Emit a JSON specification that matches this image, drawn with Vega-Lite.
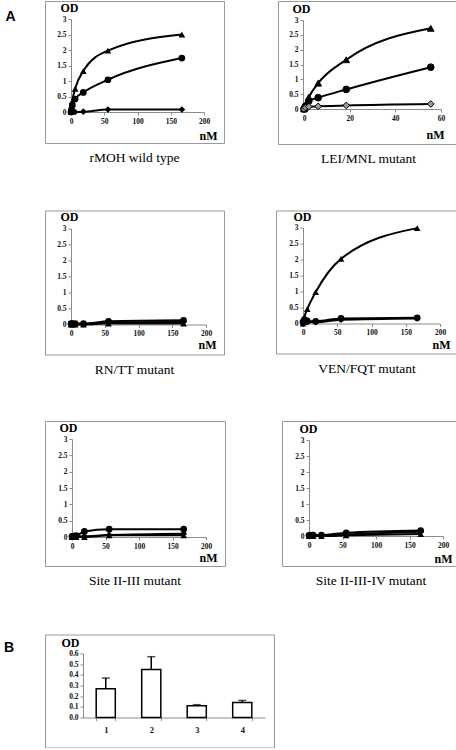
{
  "$schema": "https://vega.github.io/schema/vega-lite/v6.json",
  "background": "white",
  "padding": {"left": 3, "top": 0, "right": 0, "bottom": 0},
  "datasets": {
    "curves": [
      {"p":1,"s":"tri","x":0,"y":0},{"p":1,"s":"tri","x":0.7,"y":0.12},{"p":1,"s":"tri","x":2,"y":0.35},{"p":1,"s":"tri","x":6.2,"y":0.75},{"p":1,"s":"tri","x":18.5,"y":1.32},{"p":1,"s":"tri","x":55.5,"y":1.98},{"p":1,"s":"tri","x":166.7,"y":2.5},
      {"p":1,"s":"cir","x":0,"y":0},{"p":1,"s":"cir","x":0.7,"y":0.08},{"p":1,"s":"cir","x":2,"y":0.22},{"p":1,"s":"cir","x":6.2,"y":0.42},{"p":1,"s":"cir","x":18.5,"y":0.63},{"p":1,"s":"cir","x":55.5,"y":1.04},{"p":1,"s":"cir","x":166.7,"y":1.74},
      {"p":1,"s":"dia","x":0,"y":0},{"p":1,"s":"dia","x":2,"y":0.01},{"p":1,"s":"dia","x":6.2,"y":0},{"p":1,"s":"dia","x":18.5,"y":0.01},{"p":1,"s":"dia","x":55.5,"y":0.08},{"p":1,"s":"dia","x":166.7,"y":0.08},
      {"p":2,"s":"tri","x":0,"y":0},{"p":2,"s":"tri","x":0.2,"y":0.05},{"p":2,"s":"tri","x":0.7,"y":0.15},{"p":2,"s":"tri","x":2.1,"y":0.4},{"p":2,"s":"tri","x":6.2,"y":0.87},{"p":2,"s":"tri","x":18.5,"y":1.66},{"p":2,"s":"tri","x":55.5,"y":2.72},
      {"p":2,"s":"cir","x":0,"y":0},{"p":2,"s":"cir","x":0.2,"y":0.03},{"p":2,"s":"cir","x":0.7,"y":0.1},{"p":2,"s":"cir","x":2.1,"y":0.27},{"p":2,"s":"cir","x":6.2,"y":0.38},{"p":2,"s":"cir","x":18.5,"y":0.66},{"p":2,"s":"cir","x":55.5,"y":1.41},
      {"p":2,"s":"dia","x":0,"y":0},{"p":2,"s":"dia","x":0.7,"y":0.05},{"p":2,"s":"dia","x":2.1,"y":0.08},{"p":2,"s":"dia","x":6.2,"y":0.09},{"p":2,"s":"dia","x":18.5,"y":0.12},{"p":2,"s":"dia","x":55.5,"y":0.17},
      {"p":3,"s":"cir","x":0,"y":0.03},{"p":3,"s":"cir","x":2,"y":0.03},{"p":3,"s":"cir","x":6.2,"y":0.03},{"p":3,"s":"cir","x":18.5,"y":0.03},{"p":3,"s":"cir","x":55.5,"y":0.1},{"p":3,"s":"cir","x":166.7,"y":0.13},
      {"p":3,"s":"dia","x":0,"y":0.01},{"p":3,"s":"dia","x":6.2,"y":0.01},{"p":3,"s":"dia","x":18.5,"y":0.01},{"p":3,"s":"dia","x":55.5,"y":0.07},{"p":3,"s":"dia","x":166.7,"y":0.08},
      {"p":3,"s":"tri","x":0,"y":0},{"p":3,"s":"tri","x":2,"y":0},{"p":3,"s":"tri","x":6.2,"y":0},{"p":3,"s":"tri","x":18.5,"y":0},{"p":3,"s":"tri","x":55.5,"y":0.03},{"p":3,"s":"tri","x":166.7,"y":0.03},
      {"p":4,"s":"tri","x":0,"y":0},{"p":4,"s":"tri","x":0.7,"y":0.08},{"p":4,"s":"tri","x":2,"y":0.2},{"p":4,"s":"tri","x":6.2,"y":0.45},{"p":4,"s":"tri","x":18.5,"y":0.98},{"p":4,"s":"tri","x":55.5,"y":2.02},{"p":4,"s":"tri","x":166.7,"y":2.98},
      {"p":4,"s":"cir","x":0,"y":0.05},{"p":4,"s":"cir","x":2,"y":0.12},{"p":4,"s":"cir","x":6.2,"y":0.08},{"p":4,"s":"cir","x":18.5,"y":0.07},{"p":4,"s":"cir","x":55.5,"y":0.16},{"p":4,"s":"cir","x":166.7,"y":0.18},
      {"p":4,"s":"dia","x":0,"y":0},{"p":4,"s":"dia","x":6.2,"y":0.04},{"p":4,"s":"dia","x":18.5,"y":0.04},{"p":4,"s":"dia","x":55.5,"y":0.12},{"p":4,"s":"dia","x":166.7,"y":0.16},
      {"p":5,"s":"cir","x":0,"y":0.02},{"p":5,"s":"cir","x":2,"y":0.03},{"p":5,"s":"cir","x":6.2,"y":0.04},{"p":5,"s":"cir","x":18.5,"y":0.17},{"p":5,"s":"cir","x":55.5,"y":0.24},{"p":5,"s":"cir","x":166.7,"y":0.24},
      {"p":5,"s":"dia","x":0,"y":0.01},{"p":5,"s":"dia","x":18.5,"y":0.02},{"p":5,"s":"dia","x":55.5,"y":0.06},{"p":5,"s":"dia","x":166.7,"y":0.1},
      {"p":5,"s":"tri","x":0,"y":0},{"p":5,"s":"tri","x":2,"y":0},{"p":5,"s":"tri","x":6.2,"y":0},{"p":5,"s":"tri","x":18.5,"y":0},{"p":5,"s":"tri","x":55.5,"y":0.05},{"p":5,"s":"tri","x":166.7,"y":0.05},
      {"p":6,"s":"cir","x":0,"y":0.02},{"p":6,"s":"cir","x":2,"y":0.03},{"p":6,"s":"cir","x":6.2,"y":0.03},{"p":6,"s":"cir","x":18.5,"y":0.03},{"p":6,"s":"cir","x":55.5,"y":0.1},{"p":6,"s":"cir","x":166.7,"y":0.17},
      {"p":6,"s":"dia","x":0,"y":0.01},{"p":6,"s":"dia","x":55.5,"y":0.05},{"p":6,"s":"dia","x":166.7,"y":0.13},
      {"p":6,"s":"tri","x":0,"y":0},{"p":6,"s":"tri","x":6.2,"y":0},{"p":6,"s":"tri","x":18.5,"y":0},{"p":6,"s":"tri","x":55.5,"y":0.02},{"p":6,"s":"tri","x":166.7,"y":0.06}
    ],
    "bars": [
      {"k":"1","v":0.27,"hi":0.37},
      {"k":"2","v":0.45,"hi":0.57},
      {"k":"3","v":0.11,"hi":0.12},
      {"k":"4","v":0.14,"hi":0.16}
    ]
  },
  "vconcat": [
    {
      "title": {"text":"A","orient":"left","anchor":"end","angle":0,"align":"left","baseline":"top","dy":9,"offset":29,"font":"Liberation Sans","fontSize":14,"fontWeight":"bold","color":"black"},
      "spacing": 43.5,
      "vconcat": [
        {
          "spacing": 52,
          "hconcat": [
            {
              "width": 179, "height": 142,
              "title": {"text": "rMOH wild type"},
              "data": {"name": "curves"},
              "transform": [{"filter": "datum.p == 1"}],
              "encoding": {
                "x": {"field":"x","type":"quantitative","scale":{"domain":[0,200],"range":[26,159],"nice":false,"zero":false},
                      "axis":{"offset":-31,"values":[0,50,100,150,200],"title":"nM","titleX":163,"titleY":27}},
                "y": {"field":"y","type":"quantitative","scale":{"domain":[0,3],"range":[111,18],"nice":false},
                      "axis":{"offset":-26,"values":[0,0.5,1,1.5,2,2.5,3],"format":"~g","title":"OD","titleX":-2,"titleY":10}}
              },
              "layer": [
                {"mark":{"type":"line","interpolate":"monotone","color":"black","strokeWidth":2},"encoding":{"detail":{"field":"s"}}},
                {"mark":{"type":"point","filled":true,"color":"black","size":45,"opacity":1},"encoding":{"shape":{"field":"s","type":"nominal","scale":{"domain":["tri","cir","dia"],"range":["triangle-up","circle","diamond"]},"legend":null}}}
              ]
            },
            {
              "width": 181, "height": 143,
              "title": {"text": "LEI/MNL mutant"},
              "data": {"name": "curves"},
              "transform": [{"filter": "datum.p == 2"}],
              "encoding": {
                "x": {"field":"x","type":"quantitative","scale":{"domain":[0,60],"range":[26,163],"nice":false,"zero":false},
                      "axis":{"offset":-35,"values":[0,20,40,60],"title":"nM","titleX":157,"titleY":29}},
                "y": {"field":"y","type":"quantitative","scale":{"domain":[0,3],"range":[108,19],"nice":false},
                      "axis":{"offset":-25,"values":[0,0.5,1,1.5,2,2.5,3],"format":"~g","title":"OD","titleX":-2,"titleY":11}}
              },
              "layer": [
                {"mark":{"type":"line","interpolate":"monotone","color":"black","strokeWidth":2},"encoding":{"detail":{"field":"s"}}},
                {"mark":{"type":"point","filled":true,"stroke":"black","strokeWidth":1,"size":45,"opacity":1},"encoding":{
                  "shape":{"field":"s","type":"nominal","scale":{"domain":["tri","cir","dia"],"range":["triangle-up","circle","diamond"]},"legend":null},
                  "fill":{"field":"s","type":"nominal","scale":{"domain":["tri","cir","dia"],"range":["black","black","#9a9a9a"]},"legend":null}}}
              ]
            }
          ]
        },
        {
          "spacing": 50,
          "hconcat": [
            {
              "width": 179, "height": 144,
              "title": {"text": "RN/TT mutant"},
              "data": {"name": "curves"},
              "transform": [{"filter": "datum.p == 3"}],
              "encoding": {
                "x": {"field":"x","type":"quantitative","scale":{"domain":[0,200],"range":[26,161],"nice":false,"zero":false},
                      "axis":{"offset":-30,"values":[0,50,100,150,200],"title":"nM","titleX":162,"titleY":24}},
                "y": {"field":"y","type":"quantitative","scale":{"domain":[0,3],"range":[114,18],"nice":false},
                      "axis":{"offset":-26,"values":[0,0.5,1,1.5,2,2.5,3],"format":"~g","title":"OD","titleX":-2,"titleY":10}}
              },
              "layer": [
                {"mark":{"type":"line","interpolate":"monotone","color":"black","strokeWidth":2},"encoding":{"detail":{"field":"s"}}},
                {"mark":{"type":"point","filled":true,"color":"black","size":45,"opacity":1},"encoding":{"shape":{"field":"s","type":"nominal","scale":{"domain":["tri","cir","dia"],"range":["triangle-up","circle","diamond"]},"legend":null}}}
              ]
            },
            {
              "width": 182, "height": 143,
              "title": {"text": "VEN/FQT mutant"},
              "data": {"name": "curves"},
              "transform": [{"filter": "datum.p == 4"}],
              "encoding": {
                "x": {"field":"x","type":"quantitative","scale":{"domain":[0,200],"range":[27,164],"nice":false,"zero":false},
                      "axis":{"offset":-30,"values":[0,50,100,150,200],"title":"nM","titleX":165,"titleY":25}},
                "y": {"field":"y","type":"quantitative","scale":{"domain":[0,3],"range":[113,17],"nice":false},
                      "axis":{"offset":-27,"values":[0,0.5,1,1.5,2,2.5,3],"format":"~g","title":"OD","titleX":-1,"titleY":10}}
              },
              "layer": [
                {"mark":{"type":"line","interpolate":"monotone","color":"black","strokeWidth":2},"encoding":{"detail":{"field":"s"}}},
                {"mark":{"type":"point","filled":true,"color":"black","size":45,"opacity":1},"encoding":{"shape":{"field":"s","type":"nominal","scale":{"domain":["tri","cir","dia"],"range":["triangle-up","circle","diamond"]},"legend":null}}}
              ]
            }
          ]
        },
        {
          "spacing": 55,
          "hconcat": [
            {
              "width": 180, "height": 145,
              "title": {"text": "Site II-III mutant"},
              "data": {"name": "curves"},
              "transform": [{"filter": "datum.p == 5"}],
              "encoding": {
                "x": {"field":"x","type":"quantitative","scale":{"domain":[0,200],"range":[27,161],"nice":false,"zero":false},
                      "axis":{"offset":-29,"values":[0,50,100,150,200],"title":"nM","titleX":163,"titleY":24}},
                "y": {"field":"y","type":"quantitative","scale":{"domain":[0,3],"range":[116,18],"nice":false},
                      "axis":{"offset":-27,"values":[0,0.5,1,1.5,2,2.5,3],"format":"~g","title":"OD","titleX":-4,"titleY":10}}
              },
              "layer": [
                {"mark":{"type":"line","interpolate":"monotone","color":"black","strokeWidth":2},"encoding":{"detail":{"field":"s"}}},
                {"mark":{"type":"point","filled":true,"color":"black","size":45,"opacity":1},"encoding":{"shape":{"field":"s","type":"nominal","scale":{"domain":["tri","cir","dia"],"range":["triangle-up","circle","diamond"]},"legend":null}}}
              ]
            },
            {
              "width": 178, "height": 145,
              "title": {"text": "Site II-III-IV mutant"},
              "data": {"name": "curves"},
              "transform": [{"filter": "datum.p == 6"}],
              "encoding": {
                "x": {"field":"x","type":"quantitative","scale":{"domain":[0,200],"range":[27,161],"nice":false,"zero":false},
                      "axis":{"offset":-30,"values":[0,50,100,150,200],"title":"nM","titleX":161,"titleY":26}},
                "y": {"field":"y","type":"quantitative","scale":{"domain":[0,3],"range":[115,19],"nice":false},
                      "axis":{"offset":-27,"values":[0,0.5,1,1.5,2,2.5,3],"format":"~g","title":"OD","titleX":-1,"titleY":11}}
              },
              "layer": [
                {"mark":{"type":"line","interpolate":"monotone","color":"black","strokeWidth":2},"encoding":{"detail":{"field":"s"}}},
                {"mark":{"type":"point","filled":true,"color":"black","size":45,"opacity":1},"encoding":{"shape":{"field":"s","type":"nominal","scale":{"domain":["tri","cir","dia"],"range":["triangle-up","circle","diamond"]},"legend":null}}}
              ]
            }
          ]
        }
      ]
    },
    {
      "width": 229, "height": 113,
      "title": {"text":"B","orient":"left","anchor":"end","angle":0,"align":"left","baseline":"top","dy":6,"offset":31,"font":"Liberation Sans","fontSize":14,"fontWeight":"bold","color":"black"},
      "data": {"name": "bars"},
      "encoding": {
        "x": {"field":"k","type":"ordinal","scale":{"range":[38,220],"paddingInner":0.58,"paddingOuter":0.29},
              "axis":{"offset":-30,"tickBand":"extent","labelAngle":0,"title":null,"labelFontSize":8.5,"labelPadding":5}}
      },
      "layer": [
        {"mark":{"type":"rule","color":"black","strokeWidth":1.5},
         "encoding":{"y":{"field":"v","type":"quantitative","scale":{"domain":[0,0.6],"range":[83,19],"nice":false,"zero":true},
              "axis":{"offset":-38,"values":[0,0.1,0.2,0.3,0.4,0.5,0.6],"tickCount":7,"format":".1f","title":"OD","titleX":-13,"titleY":12,"labelOverlap":false}},
           "y2":{"field":"hi"}}},
        {"mark":{"type":"bar","fill":"white","stroke":"black","strokeWidth":1.5},"encoding":{"y":{"field":"v","type":"quantitative"}}},
        {"mark":{"type":"tick","color":"black","thickness":1.5,"size":8},"encoding":{"y":{"field":"hi","type":"quantitative"}}}
      ]
    }
  ],
  "spacing": 45.5,
  "config": {
    "view": {"stroke": "#9a9a9a", "strokeWidth": 1},
    "axis": {"grid": false, "domainColor": "#8c8c8c", "tickColor": "#8c8c8c", "tickSize": 3,
             "labelFont": "Liberation Serif", "labelFontSize": 7.5, "labelFontWeight": "bold", "labelColor": "#111111", "labelPadding": 2, "labelFlush": false, "labelOverlap": false,
             "titleFont": "Liberation Serif", "titleFontSize": 12, "titleFontWeight": "bold", "titleColor": "black",
             "titleAngle": 0, "titleAlign": "center", "titleBaseline": "alphabetic"},
    "title": {"font": "Liberation Serif", "fontSize": 13.5, "fontWeight": "normal", "color": "black", "orient": "bottom", "offset": 8}
  }
}
